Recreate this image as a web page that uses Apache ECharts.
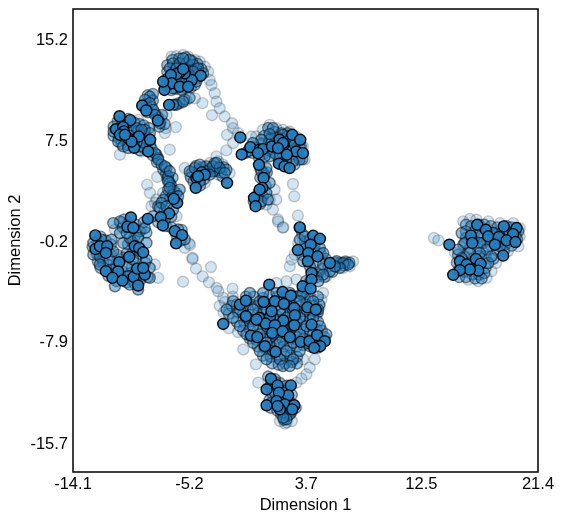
<!DOCTYPE html>
<html><head><meta charset="utf-8">
<style>html,body{margin:0;padding:0;background:#fff}#c{width:564px;height:522px}</style>
<script src="https://cdn.jsdelivr.net/npm/echarts@6/dist/echarts.min.js"></script>
</head><body><div id="c"></div>
<script>
const xTicks=[-14.1,-5.2,3.7,12.5,21.4];
const yTicks=[-15.7,-7.9,-0.2,7.5,15.2];
const faintPoints=[[-2.9,-5.2],[-2.6,-5.7],[-2.2,-6.9],[-1.5,-7.2],[-2.5,-4.9],[-1.9,-4.5],[-6.58,13.85],[-6.2,13.9],[-5.69,13.98],[-5.31,13.85],[-4.8,13.6],[-4.42,13.47],[-4.04,13.09],[-3.79,12.71],[-3.66,12.07],[-3.53,11.69],[-3.28,11.06],[-3.15,10.42],[-2.9,9.91],[-2.52,9.28],[-1.96,8.77],[-1.88,8.39],[-1.5,8],[-4.22,10.3],[-3.48,9.38],[-2.34,7.88],[-1.88,7.25],[-2.39,6.69],[-4.8,10.67],[-5.44,10.5],[-5.82,10.3],[-6.25,8.47],[-7.09,8.01],[-7.02,8.39],[-6.71,6.74],[-7.67,4.66],[-8.44,4.07],[-8.23,3.44],[-7.85,2.67],[-6.96,9.4],[-7.34,9.02],[-10.52,6.36],[-9.12,9.02],[-8.87,6.61],[-5.57,5.34],[-5.19,4.83],[-3.66,5.72],[-3.03,5.85],[-2.65,5.6],[-2.14,4.96],[-3.03,4.83],[-4.04,4.2],[-3.15,6.23],[0.91,8.64],[1.42,8.39],[1.93,8.26],[2.43,8.13],[2.94,7.75],[3.45,6.99],[3.58,5.98],[-0.11,7.75],[0.4,8.26],[-0.49,7.75],[2.69,4.12],[2.79,3.18],[3.07,1.71],[0.91,2.93],[1.16,2.17],[1.55,1.4],[1.93,0.77],[0.66,2.55],[1.29,3.69],[1.42,2.93],[-7.22,3.44],[-7.73,2.93],[-8.11,2.42],[-8.87,0.64],[-9.12,0.13],[-10.52,1.15],[-10.9,0.64],[-6.2,1.66],[-5.57,-0.76],[-5.24,-0.42],[-4.98,-1.52],[-5.17,-0.53],[-4.97,-1.62],[-4.71,-2.35],[-4.2,-2.94],[-3.72,-3.4],[-3.14,-3.83],[-3.01,-4.08],[-2.63,-4.59],[-3.57,-2.23],[-1.92,-3.88],[-5.7,-3.35],[1.56,1.25],[1.94,0.82],[-1.1,-8.53],[-0.14,-9.67],[0.04,-11.07],[3.47,-9.29],[3.97,-9.92],[4.36,-9.29],[3.72,-10.43],[3.34,-10.76],[2.96,-11.07],[4.99,-4.21],[4.86,-4.72],[4.74,-5.22],[4.48,-5.99],[3.97,-4.84],[2.58,-1.67],[2.45,-2.18],[2.83,-1.29],[2.2,-3.32],[1.43,-3.45],[2.96,-3.19],[7.28,-1.8],[6.77,-1.92],[7.02,-2.18],[6.51,-2.3],[5.24,-2.94],[3.09,-0.4],[2.08,-14.2],[1.7,-14],[2.6,-14],[2.2,-14.1],[-7.85,-2.04],[-7.6,-3.06],[13.46,-0.01],[13.79,-0.19],[15.69,1.26],[16.2,1.44],[16.7,1.39],[17.6,1.26],[18.5,1.13],[19.5,1.13],[20,0.75],[20,0.1],[19.9,-0.65],[19.1,-1.03],[18.2,-1.92],[17.85,-2.55],[17.47,-3.06],[16.84,-3.31],[16.07,-3.19],[15.06,-1.15]];
const fillPoints=[[-0.9,-4.5],[-0.3,-4.5],[0.4,-4.6],[0.9,-4.4],[1.5,-4.5],[2,-4.6],[2.6,-4.4],[3,-4.5],[3.6,-4.6],[4,-4.5],[4.6,-4.5],[-2,-5.2],[-1.6,-5.1],[-0.9,-5.2],[-0.5,-5.1],[0,-5.2],[0.5,-5.1],[1,-5.2],[1.5,-5.1],[2.2,-5.2],[2.6,-5.1],[3.2,-5.2],[3.7,-5.1],[4.2,-5.2],[4.7,-5.1],[-2.2,-5.8],[-1.5,-5.7],[-1.1,-5.8],[-0.6,-5.9],[0,-5.8],[0.4,-5.7],[1,-5.8],[1.4,-5.9],[1.9,-5.8],[2.5,-5.7],[3,-5.8],[3.5,-5.9],[4,-5.8],[4.6,-5.7],[-1.6,-6.4],[-1,-6.5],[-0.6,-6.4],[0,-6.3],[0.4,-6.4],[0.9,-6.5],[1.5,-6.4],[2,-6.3],[2.5,-6.4],[3,-6.5],[3.5,-6.4],[4,-6.3],[4.6,-6.4],[-1.1,-7.1],[-0.6,-7],[0,-7.1],[0.4,-7],[1,-7.1],[1.5,-7],[2,-7.1],[2.5,-7],[3,-7.1],[3.5,-7],[4,-7.1],[4.5,-7],[4.9,-7.1],[-0.6,-7.7],[-0.1,-7.8],[0.4,-7.7],[1,-7.6],[1.4,-7.7],[1.9,-7.8],[2.5,-7.7],[3,-7.6],[3.5,-7.7],[4,-7.8],[4.6,-7.7],[5.1,-7.6],[0,-8.3],[0.5,-8.4],[1,-8.3],[1.5,-8.2],[2,-8.3],[2.5,-8.4],[3,-8.3],[3.5,-8.2],[4,-8.3],[4.6,-8.4],[0.4,-9],[1,-9.1],[1.5,-9],[2,-8.9],[2.5,-9],[3,-9.1],[1.1,-9.6],[1.6,-9.7],[2.1,-9.6],[2.6,-9.5],[3,-9.6],[-6.9,13.2],[-6.5,13.6],[-6,13.7],[-5.5,13.8],[-5,13.5],[-4.6,13.3],[-4.3,12.9],[-6.9,12.7],[-6.4,12.7],[-6,12.5],[-5.6,12.3],[-5.2,12.5],[-4.8,12.4],[-7,12.1],[-6.5,12.1],[-5.8,11.9],[-5.2,11.9],[-4.6,12.2],[-7,11.6],[-6.2,11.4],[-5.6,11.5],[-5.1,11.5],[-6.6,11.3],[-4.8,11.7],[-6.2,13.1],[-5.2,13],[-4.7,12.9],[-8.4,10.9],[-8,11],[-8,10.5],[-8.5,10.2],[-8.1,10],[-8.4,9.6],[-7.8,9.5],[-7.6,9.2],[-7.3,9.4],[-7.5,8.5],[-7.1,8.7],[-6.3,10.2],[-6,10.3],[-5.6,10.6],[-5.2,10.7],[-10.7,8.9],[-10.3,8.9],[-9.9,9.1],[-9.4,8.8],[-9,8.7],[-8.7,8.6],[-8.3,8.4],[-11,8.5],[-10.5,8.4],[-9.9,8.4],[-9.5,8.2],[-9.1,8.2],[-8.6,7.9],[-11,7.8],[-10.6,7.6],[-10.1,7.5],[-9.6,7.8],[-9.3,7.6],[-8.7,7.6],[-8.2,7.1],[-10.4,7.2],[-9.9,7.1],[-9.5,7],[-9,6.7],[-8.6,6.8],[-8.1,6.8],[-8,6.3],[-7.7,5.8],[-7.2,5.2],[-7,4.9],[-6.9,4.5],[-6.5,4.6],[-6.6,4],[-6.4,3.6],[-6.2,3.4],[-6.7,3],[-7,3.2],[-7.2,2.9],[-7.6,2.4],[-7.1,2.1],[-6.6,1.6],[-7.6,1.2],[-7,0.9],[-6.6,0.8],[-6.2,0.2],[-5.8,0.6],[-5.9,-0.2],[-5,5],[-4.7,5.5],[-4.5,5.2],[-4.2,5.4],[-4.4,4.8],[-4.1,4.5],[-3.8,5],[-3.6,5.3],[-3.3,5.7],[-3,5.4],[-2.8,5],[-2.6,5.4],[-3.2,5.1],[-2.7,4.7],[-5.1,4.6],[-4.9,4.3],[-4.4,4],[0.8,8.4],[1.3,8.1],[1.8,8],[2.3,8],[2.8,7.6],[3.3,7],[0.5,7.8],[1,7.6],[1.4,7.7],[1.9,7.6],[2.3,7.8],[0.3,7.2],[0.8,7.2],[1.3,7.2],[1.8,6.8],[2.3,7],[2.8,7.2],[3.2,6.9],[-0.1,6.9],[0.4,6.4],[0.8,6.7],[1.2,6.5],[1.9,6.5],[2.5,6.6],[3.1,6.2],[3.4,6],[-0.4,6.5],[-0.9,6.5],[1.6,6.1],[2.2,5.8],[2.8,5.6],[0.1,6.1],[0.2,5.3],[0.7,5],[0.5,4.9],[0.2,4.6],[0.6,4],[0.1,3.5],[-0.1,3.2],[0.4,3.2],[0.2,2.6],[-0.3,2.8],[-12.6,-0.7],[-12.2,-0.2],[-12,0.1],[-11.6,-0.2],[-11.2,-0.5],[-12.3,-1.2],[-11.8,-1],[-11.2,-1.3],[-12.2,-1.8],[-11.8,-1.9],[-11.4,-2.1],[-11.1,-2.4],[-12,-2.3],[-11.4,-2.9],[-10.8,-2.1],[-10.3,-2.6],[-10.2,-1.5],[-10.7,-1.3],[-10,-1.2],[-9.5,-1],[-9.9,-0.5],[-9.3,-1.6],[-9,-1.2],[-9.6,-2.2],[-9,-2.8],[-8.6,-1.9],[-9.7,-2.7],[-9.7,-3.2],[-9,-3.3],[-8.4,-3],[-10,-3.4],[-10.5,-3],[-9.4,-3.5],[-9.4,0.1],[-9.9,1.1],[-9.3,1],[-9,0.5],[-8.7,1.2],[-10.3,0.8],[-10.2,1.4],[-8.5,0.4],[-9.6,-0.3],[3.4,0.3],[3.6,-0.3],[4,-0.1],[4.4,-0.4],[4.3,-0.9],[3.6,-0.7],[3.4,-1.3],[4.1,-1.5],[4.8,-1.2],[5.2,-1.6],[4.4,-1.9],[4.9,-2.4],[5.4,-2.2],[5.9,-1.9],[6.3,-1.9],[6.7,-1.8],[5.7,-2.6],[6,-2.2],[6.6,-2.1],[7,-1.9],[4.6,-2.8],[5.1,-3],[4.5,-3],[4,-3.3],[3.7,-3.3],[3.7,-3.9],[3.3,-4.3],[0.8,-10.6],[1.3,-11],[1.7,-11.1],[2.2,-11.3],[0.9,-11.4],[1.1,-11.9],[1.7,-12],[2.2,-11.7],[2.6,-12],[0.9,-12.4],[1.3,-12.7],[1.8,-12.5],[2.4,-12.5],[1,-13],[1.5,-13.2],[1.9,-13],[2.4,-13],[2.9,-13],[1.8,-13.5],[2.3,-13.6],[2,-13.9],[2.6,-13.3],[15.9,1],[16.3,0.9],[16.9,1],[17.3,1],[17.8,0.9],[18.3,0.8],[19,0.9],[19.4,0.8],[19.9,0.5],[15.9,0.5],[16.6,0.5],[17,0.4],[17.5,0.5],[18,0.4],[18.6,0.4],[19,0.4],[19.7,0.2],[15.9,0],[16.5,-0.2],[17,0.1],[17.5,-0.2],[18,-0.1],[18.6,0],[19.3,-0.1],[19.8,-0.1],[15.7,-0.5],[16.2,-0.8],[16.8,-0.8],[17.2,-0.4],[17.8,-0.6],[18.4,-0.4],[18.9,-0.5],[19.4,-0.6],[18.3,-1],[18.8,-1],[15.3,-1.3],[15.8,-1.4],[16.4,-1.6],[16.9,-1.4],[17.4,-1.4],[18,-1.6],[15.2,-1.9],[15.7,-2],[16.3,-2],[16.9,-1.9],[17.4,-2.3],[15.3,-2.5],[15.8,-2.6],[16.4,-2.8],[16.9,-2.8],[17.3,-2.7],[15.4,-3],[15.9,-3],[16.6,-3.1],[17.1,-3.1]];
const midPoints=[[-6.2,10.17],[3.2,0.77],[-7.73,6.36],[-7.6,6.1],[-7.34,5.6],[-6.96,5.34],[-6.84,4.71],[-6.71,4.2],[-6.84,3.69],[-6.46,3.31],[-3.92,5.47],[-3.41,5.09],[-2.39,5.21],[-6.46,13.34],[-5.95,13.34],[-5.44,13.34],[-4.93,13.22],[-4.55,12.96],[-6.71,12.96],[-6.2,12.96],[-5.57,12.96],[-4.93,12.71],[-6.84,12.2],[-6.07,12.07],[-5.44,12.07],[-4.68,11.95],[-6.46,11.44],[-5.82,11.31],[-6.96,11.69],[-4.17,12.58],[-5.19,13.6],[-5.69,13.72],[-8.23,10.8],[-8.6,10.55],[-8.23,10.3],[-7.98,9.79],[-7.85,9.4],[-7.47,8.77],[-5.69,10.42],[-6.46,10.17],[-10,8.77],[-9.25,8.39],[-8.62,8.26],[-8.23,8.01],[-11,8.13],[-10.65,7.37],[-10.27,7],[-9.89,6.87],[-9,7],[-8.62,7.25],[-8.87,8.26],[-9.25,7.25],[-7.85,6.48],[-7.6,5.98],[-7.09,5.47],[-6.71,5.09],[-6.84,4.33],[-6.71,3.82],[-5.95,3.69],[-6.07,3.18],[-7.34,2.67],[-7.47,2.29],[-6.96,2.42],[-6.46,2.17],[-7.98,1.66],[-7.09,1.4],[-6.07,0.64],[-5.57,-0.12],[-5.19,5.09],[-4.8,5.34],[-4.42,5.6],[-3.92,5.09],[-3.41,5.47],[-2.9,5.34],[-2.52,4.96],[-3.15,5.72],[-3.66,4.83],[-4.42,4.32],[1.16,8.39],[1.93,7.88],[0.91,7.5],[2.43,7.5],[2.82,7.12],[1.42,6.36],[0.91,6.23],[0.53,6.23],[0.91,7.93],[0.28,7.5],[-0.36,7.25],[-0.74,6.61],[3.2,5.98],[2.69,5.85],[2.18,5.98],[0.28,5.09],[0.66,5.34],[0.91,4.2],[0.66,3.44],[0.28,2.8],[0.78,2.93],[-12.55,-0.39],[-11.92,-0.14],[-11.16,-0.14],[-12.55,-1.28],[-12.05,-1.41],[-11.28,-1.66],[-12.05,-2.04],[-11.03,-1.03],[-10.27,-0.39],[-9.76,0],[-9.13,0],[-8.49,-0.39],[-8.49,-1.66],[-10,-2.17],[-9.51,-1.66],[-8.24,-2.3],[-8.24,-3.06],[-9.89,-2.93],[-10.78,-3.31],[-9.13,-3.95],[-9.76,-3.57],[-10.52,1.26],[-10.52,0.37],[-10,0.37],[-8.62,0.75],[-11.03,1.13],[-10.9,-3.7],[3.22,-0.14],[3.6,0.11],[4.75,-0.78],[5,-1.16],[3.48,-1.79],[3.99,-2.18],[5,-2.05],[6.02,-1.79],[6.53,-1.92],[6.91,-2.05],[6.27,-2.3],[5.51,-2.56],[5,-2.81],[4.62,-3.32],[5.89,-2.18],[1.01,-11.2],[1.31,-11.84],[1.95,-11.84],[1.06,-12.6],[1.95,-13.36],[2.46,-13.49],[2.2,-13.87],[1.95,-13.75],[1.31,-10.8],[-0.6,-4.21],[0.42,-4.21],[1.43,-4.21],[2.45,-4.21],[3.47,-4.21],[-1.87,-4.84],[-0.85,-4.84],[0.16,-4.84],[2.2,-4.84],[3.21,-4.84],[4.23,-4.84],[-2.38,-5.48],[-1.36,-5.48],[-0.34,-5.48],[0.67,-5.48],[1.69,-5.48],[2.7,-5.48],[3.72,-5.48],[4.61,-5.48],[-1.87,-6.11],[-0.85,-6.11],[0.16,-6.11],[1.18,-6.11],[2.2,-6.11],[3.21,-6.11],[4.23,-6.11],[-1.36,-6.75],[-0.34,-6.75],[0.67,-6.75],[1.69,-6.75],[2.7,-6.75],[3.72,-6.75],[4.74,-6.75],[-0.85,-7.38],[0.16,-7.38],[1.18,-7.38],[2.2,-7.38],[3.21,-7.38],[4.23,-7.38],[5.24,-7.38],[-0.34,-8.02],[0.67,-8.02],[1.69,-8.02],[2.7,-8.02],[3.72,-8.02],[4.74,-8.02],[0.16,-8.65],[1.18,-8.65],[2.2,-8.65],[3.21,-8.65],[0.67,-9.29],[1.69,-9.29],[2.7,-9.29],[1.94,-9.8],[2.45,-9.8],[15.57,0.37],[15.82,-0.39],[16.96,-0.39],[17.47,-0.9],[16.96,-1.15],[16.2,-1.15],[17.98,0.37],[18.5,-0.65],[19.25,0.37],[15.57,-1.54],[17.6,-1.92],[17.85,-1.41],[15.3,-0.9]];
const solidPoints=[[-4.35,12.4],[-5.03,12.07],[-5.57,12.58],[-5.9,12.71],[-6.2,12.53],[-6.63,12.45],[-5.69,12.9],[-6.56,11.82],[-5.95,11.56],[-5.31,11.56],[-7.12,11.31],[-6.76,10.17],[-7.22,11.95],[-8.82,10.12],[-8.51,9.74],[-7.62,8.97],[-10.55,9.3],[-9.73,9],[-10.82,8.31],[-10.27,8.47],[-10.21,8.14],[-9.89,7.63],[-9.07,7.75],[-8.21,7.5],[-9.43,6.89],[-8.36,6.61],[-10.52,7.88],[-9.63,7.37],[-10.14,7.88],[-1.33,7.68],[-1.22,6.38],[-0.56,6.94],[0.15,6.74],[0.4,6.79],[1.09,6.99],[1.67,7.5],[1.98,7.12],[2.64,7.88],[3.25,7.5],[2.94,6.61],[3.45,6.48],[2.23,6.36],[1.62,5.67],[2.05,5.47],[2.43,5.34],[0.1,5.59],[0.45,4.58],[0.35,3.82],[-0.28,3.06],[-0.16,2.42],[0.15,3.69],[1.93,7.25],[1.55,6.86],[0.02,6.48],[-4.27,5.01],[-4.68,4.58],[-4.04,4.83],[-4.73,3.82],[-2.34,4.2],[-4.55,4.71],[-6.15,2.67],[-6.41,2.98],[-6.76,1.86],[-7.4,1.58],[-8.39,1.45],[-7.24,0.95],[-6.33,0.52],[-5.77,0.21],[-6.23,-0.42],[-9.68,1.56],[-9.94,0.85],[-9.5,0.77],[-12.4,0.19],[-12.38,-0.85],[-12.05,-0.64],[-11.49,-0.64],[-11.59,-1.15],[-9.38,-0.64],[-9.05,-0.77],[-8.74,-1.1],[-9.81,-1.46],[-10.57,-1.86],[-11.59,-2.55],[-10.65,-2.57],[-11.08,-3.06],[-10.32,-3.26],[-9.46,-2.98],[-8.62,-2.8],[-9.2,-2.35],[-8.74,-2.3],[-9.13,-3.64],[3.22,0.8],[4.24,0.16],[4.75,-0.07],[4.04,-0.52],[3.07,-0.93],[3.86,-1.16],[3.83,-1.79],[4.57,-1.41],[5.51,-1.92],[4.11,-2.68],[4.11,-3.19],[3.43,-3.7],[4.04,-3.88],[-2.63,-6.58],[-1.36,-5.1],[-0.9,-4.8],[-0.9,-5.99],[0.45,-4.9],[1.31,-4.85],[0.88,-3.58],[1.9,-4.14],[2.53,-4.42],[2,-5.05],[2.79,-5.36],[3.8,-5.31],[4.44,-5.49],[2.84,-5.92],[0.12,-6.12],[0.93,-6.04],[1.95,-6.32],[0.6,-6.55],[1.31,-6.68],[2.79,-6.68],[4.11,-6.63],[-0.52,-7.47],[-0.03,-7.59],[1.11,-7.26],[1.9,-7.14],[2.46,-7.59],[3.29,-7.95],[3.95,-7.9],[4.54,-7.44],[5.12,-7.9],[4.77,-8.28],[4.31,-8.41],[0.55,-8.28],[1.36,-8.71],[1.06,-5.61],[-0.1,-6.25],[1.01,-10.77],[0.68,-11.59],[1.52,-11.28],[2.53,-11.28],[2.33,-12.04],[1.62,-11.84],[0.68,-12.8],[1.44,-12.48],[2.08,-12.73],[2.79,-12.8],[1.7,-13.11],[2.64,-13.11],[1.52,-12.86],[16.76,1],[16.28,0.17],[16.38,-0.39],[17.42,0.62],[17.6,0.12],[18.79,0.88],[19.76,0.75],[19.5,0.29],[18.41,0.07],[19,-0.19],[19.68,-0.32],[18.11,-0.52],[18.74,-1.36],[14.63,-0.52],[15.44,-1.79],[15.95,-2.04],[16.66,-1.61],[17.01,-1.99],[16.84,-2.5],[16.2,-2.42],[15.44,-2.47],[14.93,-2.83]];
const F='"Liberation Sans",Arial,sans-serif';
function tier(data,alpha){return {type:'scatter',data:data,symbolSize:11,silent:true,animation:false,large:false,
 itemStyle:{color:'rgba(36,125,190,'+alpha+')',borderColor:'rgba(0,0,0,'+alpha+')',borderWidth:1.4,opacity:1}};}
const chart=echarts.init(document.getElementById('c'),null,{renderer:'canvas'});
chart.setOption({animation:false,backgroundColor:'#fff',
 grid:{left:73,right:26,top:9,bottom:50,show:true,borderColor:'#000',borderWidth:1.5,backgroundColor:'#fff',outerBoundsMode:'none'},
 xAxis:{type:'value',min:-14.1,max:21.4,name:'Dimension 1',nameLocation:'middle',nameGap:25,nameMoveOverlap:false,
  nameTextStyle:{fontFamily:F,fontSize:16.5,color:'#000'},axisLine:{show:false},axisTick:{show:false},splitLine:{show:false},
  axisLabel:{customValues:xTicks,fontFamily:F,fontSize:16.5,color:'#000',margin:4,hideOverlap:false,showMinLabel:true,showMaxLabel:true,formatter:v=>v.toFixed(1)}},
 yAxis:{type:'value',min:-17.9,max:17.5,name:'Dimension 2',nameLocation:'middle',nameGap:49,nameMoveOverlap:false,
  nameTextStyle:{fontFamily:F,fontSize:16.5,color:'#000'},axisLine:{show:false},axisTick:{show:false},splitLine:{show:false},
  axisLabel:{customValues:yTicks,fontFamily:F,fontSize:16.5,color:'#000',margin:5,formatter:v=>'{t|'+v.toFixed(1)+'}',rich:{t:{fontFamily:F,fontSize:16.5,color:'#000',padding:[3,0,0,0]}}}},
 series:[tier(faintPoints,0.2),tier(fillPoints,0.45),tier(midPoints,0.5),tier(solidPoints,0.95)]});
</script></body></html>
